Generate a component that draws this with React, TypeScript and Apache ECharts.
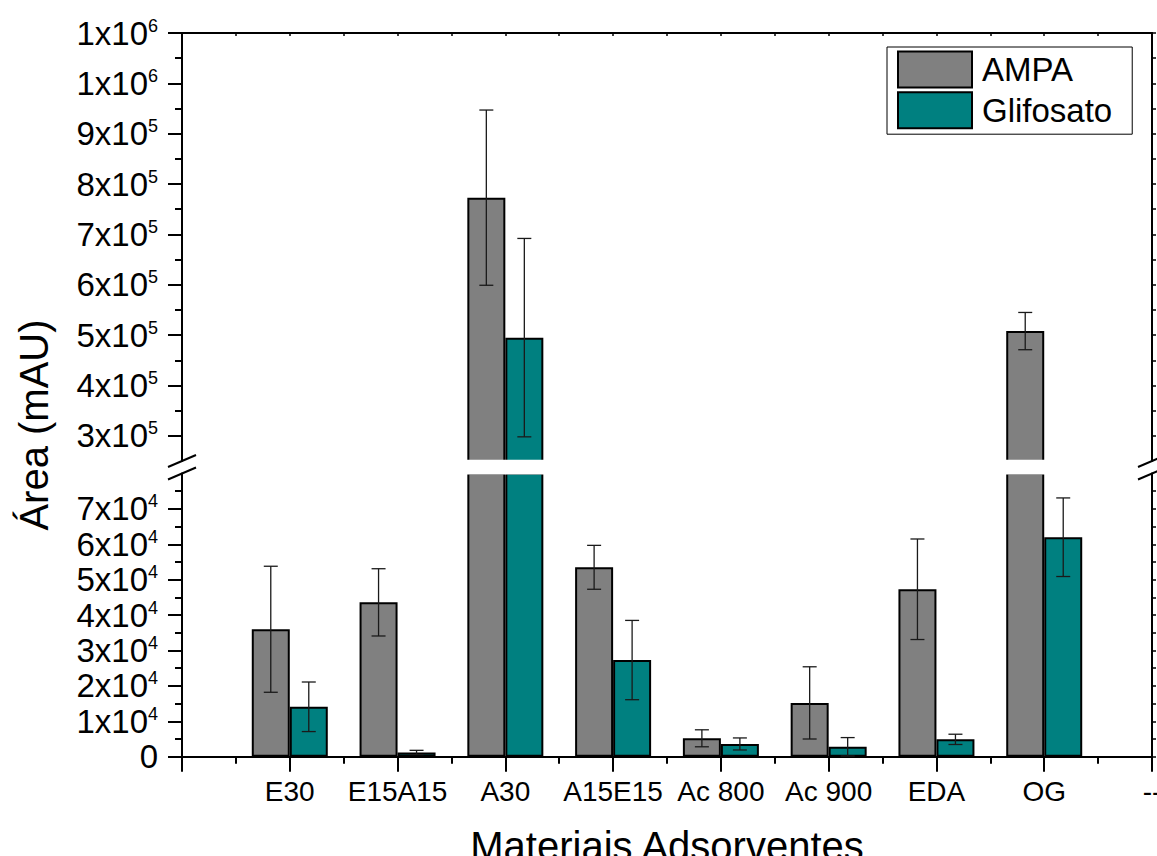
import React, { useEffect, useRef } from 'react';
import * as echarts from 'echarts';

const categories = ['', 'E30', 'E15A15', 'A30', 'A15E15', 'Ac 800', 'Ac 900', 'EDA', 'OG', '--'];
const ampaValues = [null, 36000, 43600, 773000, 53500, 5200, 15200, 47300, 508000, null];
const ampaErrors = [null, 17800, 9500, 174000, 6200, 2400, 10200, 14200, 37000, null];
const glifValues = [null, 14100, 1200, 495000, 27300, 3600, 2800, 4900, 62000, null];
const glifErrors = [null, 7000, 600, 197000, 11200, 1700, 2600, 1450, 11100, null];

const upperRange = [250000, 1100000];
const lowerRange = [0, 80000];
const upperMajorTicks = [300000, 400000, 500000, 600000, 700000, 800000, 900000, 1000000, 1100000];
const upperTickLabels = [['3', '5'], ['4', '5'], ['5', '5'], ['6', '5'], ['7', '5'], ['8', '5'], ['9', '5'], ['1', '6'], ['1', '6']];
const upperMinorTicks = [350000, 450000, 550000, 650000, 750000, 850000, 950000, 1050000];
const lowerMajorTicks = [0, 10000, 20000, 30000, 40000, 50000, 60000, 70000];
const lowerTickLabels = [['0', ''], ['1', '4'], ['2', '4'], ['3', '4'], ['4', '4'], ['5', '4'], ['6', '4'], ['7', '4']];
const lowerMinorTicks = [5000, 15000, 25000, 35000, 45000, 55000, 65000, 75000];

const FONT = 'Liberation Sans, Arial, sans-serif';
const GRAY = '#808080';
const TEAL = '#008080';
const BAR_W = 38;

function tickFormatter(ticks: number[], labels: string[][]) {
  return (value: number) => {
    const i = ticks.indexOf(value);
    if (i < 0) return '';
    const [m, e] = labels[i];
    if (!e) return `{a|${m}}`;
    return `{a|${m}x10}{b|${e}}`;
  };
}

const richLabel = {
  a: { fontSize: 33, fontFamily: FONT, color: '#000', lineHeight: 33 },
  b: { fontSize: 18, fontFamily: FONT, color: '#000', lineHeight: 10, verticalAlign: 'top' },
};

function errData(values: (number | null)[], errors: (number | null)[]) {
  const out: number[][] = [];
  values.forEach((v, i) => {
    if (v != null && errors[i] != null) out.push([i, v, errors[i] as number]);
  });
  return out;
}

function makeErr(offset: number, inRange: (v: number) => boolean) {
  return (params: any, api: any) => {
    const idx = api.value(0);
    const v = api.value(1);
    const e = api.value(2);
    if (!inRange(v)) return null;
    const c = api.coord([idx, v]);
    const top = api.coord([idx, v + e]);
    const bot = api.coord([idx, v - e]);
    const x = c[0] + offset;
    const cap = 7;
    const style = { stroke: '#1a1a1a', lineWidth: 1.3 };
    return {
      type: 'group',
      children: [
        { type: 'line', shape: { x1: x, y1: top[1], x2: x, y2: bot[1] }, style },
        { type: 'line', shape: { x1: x - cap, y1: top[1], x2: x + cap, y2: top[1] }, style },
        { type: 'line', shape: { x1: x - cap, y1: bot[1], x2: x + cap, y2: bot[1] }, style },
      ],
    };
  };
}

export default function App() {
  const ref = useRef<HTMLDivElement>(null);
  useEffect(() => {
    if (!ref.current) return;
    const chart = echarts.init(ref.current, undefined, { renderer: 'svg' });
    const axisLine = { show: true, onZero: false, lineStyle: { color: '#000', width: 2 } };
    const noLine = { show: false, onZero: false };
    const barStyle = (color: string) => ({ color, borderColor: '#000', borderWidth: 2 });
    const yLabel = (ticks: number[], labels: string[][]) => ({
      customValues: ticks, formatter: tickFormatter(ticks, labels), rich: richLabel, margin: 24, align: 'right',
      showMaxLabel: true, showMinLabel: true, hideOverlap: false,
    });
    const option: any = {
      animation: false,
      backgroundColor: '#fff',
      textStyle: { fontFamily: FONT },
      grid: [
        { left: 182, right: 5, top: 33, height: 428, outerBoundsMode: 'none' },
        { left: 182, right: 5, top: 473.5, height: 283.2, outerBoundsMode: 'none' },
      ],
      legend: {
        data: ['AMPA', 'Glifosato'],
        orient: 'vertical',
        left: 887,
        top: 47,
        itemWidth: 74,
        itemHeight: 36,
        itemGap: 2.7,
        padding: [3.5, 20, 5, 10],
        borderColor: '#000',
        borderWidth: 1,
        icon: 'rect',
        textStyle: { fontSize: 33, fontFamily: FONT, color: '#000', padding: [0, 0, 0, 5] },
      },
      xAxis: [
        {
          type: 'category', gridIndex: 1, position: 'bottom', data: categories, boundaryGap: false,
          axisLine, axisTick: { show: false },
          axisLabel: { interval: 0, fontSize: 28, fontFamily: FONT, color: '#000', margin: 21 },
          name: 'Materiais Adsorventes', nameLocation: 'middle', nameGap: 69,
          nameTextStyle: { fontSize: 40, fontFamily: FONT, color: '#000' },
        },
        {
          type: 'value', gridIndex: 1, position: 'bottom', min: -1, max: 8, interval: 1,
          axisLine: noLine,
          axisTick: { show: true, length: 15, lineStyle: { color: '#000', width: 2 } },
          minorTick: { show: true, splitNumber: 2, length: 7, lineStyle: { color: '#000', width: 2 } },
          axisLabel: { show: false }, splitLine: { show: false }, minorSplitLine: { show: false },
        },
        { type: 'category', gridIndex: 0, data: categories, boundaryGap: false, show: false, axisLine: noLine },
        {
          type: 'value', gridIndex: 0, position: 'top', min: -1, max: 8, interval: 0.5,
          axisLine,
          axisTick: { show: true, inside: true, length: 3, lineStyle: { color: '#000', width: 1.5 } },
          axisLabel: { show: false }, splitLine: { show: false },
        },
      ],
      yAxis: [
        {
          type: 'value', gridIndex: 0, position: 'left', min: upperRange[0], max: upperRange[1], interval: 50000,
          axisLine,
          axisTick: { show: true, length: 14, customValues: upperMajorTicks, lineStyle: { color: '#000', width: 2 } },
          axisLabel: yLabel(upperMajorTicks, upperTickLabels),
          splitLine: { show: false },
        },
        {
          type: 'value', gridIndex: 0, position: 'left', min: upperRange[0], max: upperRange[1], interval: 50000,
          axisLine: noLine,
          axisTick: { show: true, length: 7, customValues: upperMinorTicks, lineStyle: { color: '#000', width: 2 } },
          axisLabel: { show: false }, splitLine: { show: false },
        },
        {
          type: 'value', gridIndex: 0, position: 'right', min: upperRange[0], max: upperRange[1], interval: 50000,
          axisLine,
          axisTick: { show: true, length: 4, customValues: [...upperMajorTicks, ...upperMinorTicks], lineStyle: { color: '#000', width: 1.5 } },
          axisLabel: { show: false }, splitLine: { show: false },
        },
        {
          type: 'value', gridIndex: 1, position: 'left', min: lowerRange[0], max: lowerRange[1], interval: 10000,
          axisLine,
          axisTick: { show: true, length: 14, customValues: lowerMajorTicks, lineStyle: { color: '#000', width: 2 } },
          axisLabel: yLabel(lowerMajorTicks, lowerTickLabels),
          splitLine: { show: false },
        },
        {
          type: 'value', gridIndex: 1, position: 'left', min: lowerRange[0], max: lowerRange[1], interval: 10000,
          axisLine: noLine,
          axisTick: { show: true, length: 7, customValues: lowerMinorTicks, lineStyle: { color: '#000', width: 2 } },
          axisLabel: { show: false }, splitLine: { show: false },
        },
        {
          type: 'value', gridIndex: 1, position: 'right', min: lowerRange[0], max: lowerRange[1], interval: 10000,
          axisLine,
          axisTick: { show: true, length: 4, customValues: [...lowerMajorTicks, ...lowerMinorTicks], lineStyle: { color: '#000', width: 1.5 } },
          axisLabel: { show: false }, splitLine: { show: false },
        },
      ],
      series: [
        { type: 'bar', name: 'AMPA', xAxisIndex: 0, yAxisIndex: 3, data: ampaValues, barWidth: BAR_W, barGap: '0%', itemStyle: barStyle(GRAY), clip: true },
        { type: 'bar', name: 'Glifosato', xAxisIndex: 0, yAxisIndex: 3, data: glifValues, barWidth: BAR_W, barGap: '0%', itemStyle: barStyle(TEAL), clip: true },
        { type: 'bar', name: 'AMPA', xAxisIndex: 2, yAxisIndex: 0, data: ampaValues, barWidth: BAR_W, barGap: '0%', itemStyle: barStyle(GRAY), clip: true },
        { type: 'bar', name: 'Glifosato', xAxisIndex: 2, yAxisIndex: 0, data: glifValues, barWidth: BAR_W, barGap: '0%', itemStyle: barStyle(TEAL), clip: true },
        { type: 'custom', name: 'AMPA', xAxisIndex: 0, yAxisIndex: 3, z: 5, data: errData(ampaValues, ampaErrors), renderItem: makeErr(-BAR_W / 2, (v) => v <= lowerRange[1]), encode: { x: 0, y: 1 } },
        { type: 'custom', name: 'Glifosato', xAxisIndex: 0, yAxisIndex: 3, z: 5, data: errData(glifValues, glifErrors), renderItem: makeErr(BAR_W / 2, (v) => v <= lowerRange[1]), encode: { x: 0, y: 1 } },
        { type: 'custom', name: 'AMPA', xAxisIndex: 2, yAxisIndex: 0, z: 5, data: errData(ampaValues, ampaErrors), renderItem: makeErr(-BAR_W / 2, (v) => v >= upperRange[0]), encode: { x: 0, y: 1 } },
        { type: 'custom', name: 'Glifosato', xAxisIndex: 2, yAxisIndex: 0, z: 5, data: errData(glifValues, glifErrors), renderItem: makeErr(BAR_W / 2, (v) => v >= upperRange[0]), encode: { x: 0, y: 1 } },
      ],
      graphic: [
        { type: 'rect', z: 100, shape: { x: 184, y: 459.8, width: 966, height: 14.6 }, style: { fill: '#fff' } },
        { type: 'line', z: 101, shape: { x1: 168, y1: 467, x2: 196, y2: 455 }, style: { stroke: '#000', lineWidth: 2 } },
        { type: 'line', z: 101, shape: { x1: 168, y1: 479.5, x2: 196, y2: 467.5 }, style: { stroke: '#000', lineWidth: 2 } },
        { type: 'line', z: 101, shape: { x1: 1138, y1: 467, x2: 1166, y2: 455 }, style: { stroke: '#000', lineWidth: 2 } },
        { type: 'line', z: 101, shape: { x1: 1138, y1: 479.5, x2: 1166, y2: 467.5 }, style: { stroke: '#000', lineWidth: 2 } },
        {
          type: 'text', z: 101, x: 34, y: 425, rotation: Math.PI / 2,
          style: { text: 'Área (mAU)', fontSize: 40, fontFamily: FONT, fill: '#000', align: 'center', verticalAlign: 'middle' },
        },
      ],
    };
    chart.setOption(option);
    return () => chart.dispose();
  }, []);
  return <div ref={ref} style={{ position: 'fixed', left: 0, top: 0, width: 1157, height: 856, background: '#fff' }} />;
}
